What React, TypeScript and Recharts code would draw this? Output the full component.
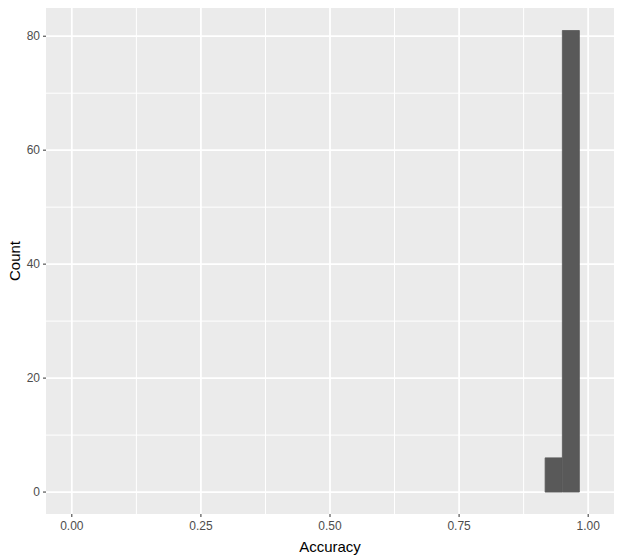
import { BarChart, Bar, XAxis, YAxis, CartesianGrid, Label } from "recharts";

// histogram bins (bin width 1/30), only non-empty bins listed
const binCenters = [0.9333, 0.9667];
const counts = [6, 81];

const xTicks = [0, 0.25, 0.5, 0.75, 1];
const yTicks = [0, 20, 40, 60, 80];
const xMinor = [0.125, 0.375, 0.625, 0.875];
const yMinor = [10, 30, 50, 70];

const data = binCenters.map((x, i) => ({ x, count: counts[i] }));

const font = "'Liberation Sans', Arial, sans-serif";
const tickStyle = { fill: "#4D4D4D", fontSize: 12, fontFamily: font };

const App = () => {
    return (
        <div style={{ position: "absolute", left: 0, top: 0, width: 623, height: 560, background: "#fff" }}>
            <BarChart
                width={623}
                height={560}
                data={data}
                margin={{ top: 8, right: 9, bottom: 0, left: 0 }}
                barCategoryGap={0}
                barGap={0}
            >
                <CartesianGrid
                    fill="#EBEBEB"
                    stroke="#FFFFFF"
                    strokeWidth={1}
                    horizontalValues={yMinor}
                    verticalValues={xMinor}
                />
                <CartesianGrid
                    fill="none"
                    stroke="#FFFFFF"
                    strokeWidth={1.8}
                    horizontalValues={yTicks}
                    verticalValues={xTicks}
                />
                <XAxis
                    dataKey="x"
                    type="number"
                    domain={[-0.05, 1.05]}
                    allowDataOverflow
                    ticks={xTicks}
                    tickFormatter={(v: number) => v.toFixed(2)}
                    height={46}
                    axisLine={false}
                    tickSize={3}
                    tickMargin={4}
                    tickLine={{ stroke: "#333333", strokeWidth: 1 }}
                    tick={tickStyle}
                >
                    <Label
                        value="Accuracy"
                        position="insideBottom"
                        offset={8}
                        style={{ fill: "#000", fontSize: 15, fontFamily: font }}
                    />
                </XAxis>
                <YAxis
                    type="number"
                    domain={[-3.85, 84.95]}
                    allowDataOverflow
                    ticks={yTicks}
                    width={46}
                    axisLine={false}
                    tickSize={3}
                    tickMargin={3}
                    tickLine={{ stroke: "#333333", strokeWidth: 1 }}
                    tick={tickStyle}
                >
                    <Label
                        value="Count"
                        angle={-90}
                        position="insideLeft"
                        offset={15}
                        style={{ fill: "#000", fontSize: 15, fontFamily: font, textAnchor: "middle" }}
                    />
                </YAxis>
                <Bar
                    dataKey="count"
                    fill="#595959"
                    stroke="#595959"
                    strokeWidth={0.8}
                    isAnimationActive={false}
                />
            </BarChart>
        </div>
    );
};

export default App;
